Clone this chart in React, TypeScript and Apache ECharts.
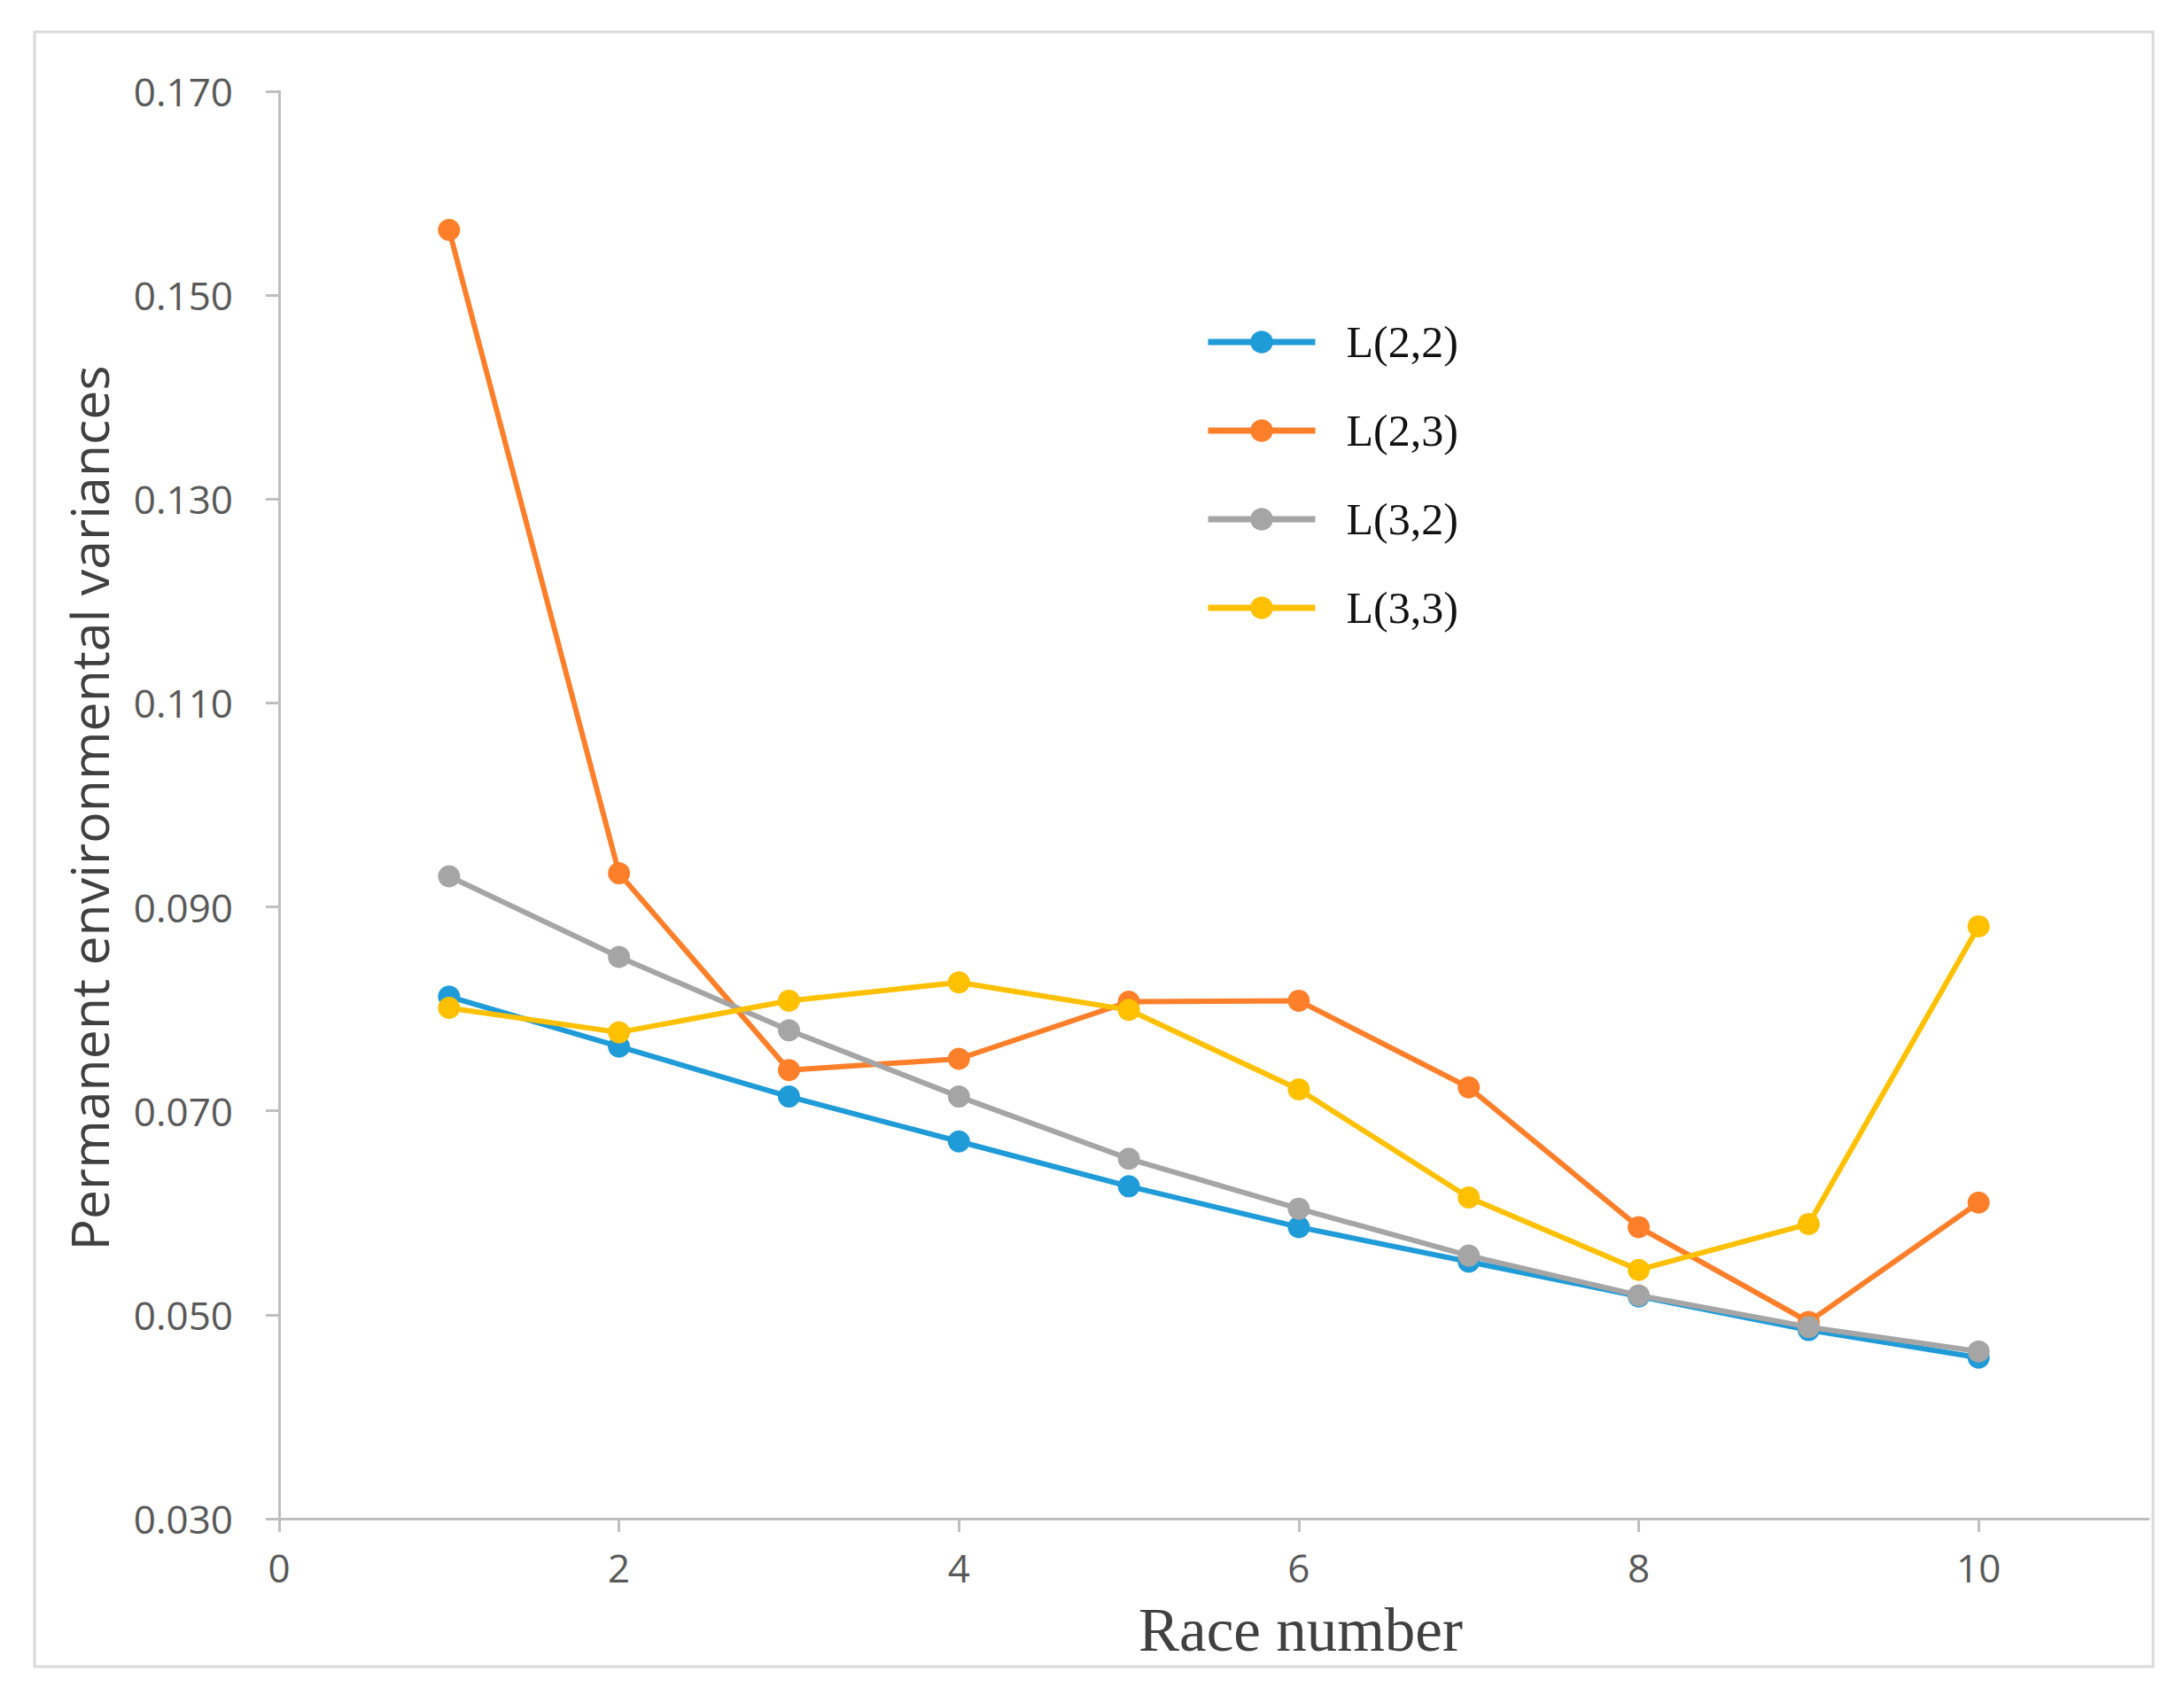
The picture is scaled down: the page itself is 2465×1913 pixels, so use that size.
import React, { useEffect, useRef } from "react";
import * as echarts from "echarts";

const raceNumbers = [1, 2, 3, 4, 5, 6, 7, 8, 9, 10];
const seriesNames = ["L(2,2)", "L(2,3)", "L(3,2)", "L(3,3)"];
const l22 = [0.0812, 0.0763, 0.0714, 0.067, 0.0626, 0.0586, 0.0552, 0.0518, 0.0485, 0.0458];
const l23 = [0.1564, 0.0933, 0.074, 0.0751, 0.0807, 0.0808, 0.0723, 0.0586, 0.0493, 0.061];
const l32 = [0.093, 0.0851, 0.0779, 0.0714, 0.0653, 0.0604, 0.0558, 0.0519, 0.0488, 0.0464];
const l33 = [0.0801, 0.0777, 0.0808, 0.0826, 0.0799, 0.0721, 0.0615, 0.0544, 0.0589, 0.0881];
const xTickValues = [0, 2, 4, 6, 8, 10];
const colors = ["#1f9bd7", "#fe7f2a", "#a5a5a5", "#ffc000"];

export default function App() {
  const ref = useRef<HTMLDivElement>(null);
  useEffect(() => {
    if (!ref.current) return;
    const chart = echarts.init(ref.current, undefined, { renderer: "svg" });
    const all = [l22, l23, l32, l33];
    chart.setOption({
      animation: false,
      backgroundColor: "#ffffff",
      grid: { left: 315, top: 103, right: 40, bottom: 199, containLabel: false },
      legend: {
        orient: "vertical",
        left: 1355,
        top: 356,
        itemWidth: 121,
        itemHeight: 32,
        itemGap: 50,
        data: seriesNames,
        lineStyle: { width: 7 },
        textStyle: {
          fontFamily: "Liberation Serif",
          fontSize: 50,
          color: "#111111",
          padding: [0, 0, 0, 30],
        },
      },
      xAxis: {
        type: "value",
        min: 0,
        max: 11,
        interval: 2,
        axisLine: { show: true, lineStyle: { color: "#bfbfbf", width: 3 } },
        axisTick: { show: true, length: 15, lineStyle: { color: "#bfbfbf", width: 3 }, customValues: xTickValues },
        axisLabel: {
          customValues: xTickValues,
          fontFamily: "Open Sans",
          fontSize: 44,
          lineHeight: 44,
          color: "#595959",
          margin: 33,
        },
        splitLine: { show: false },
      },
      yAxis: {
        type: "value",
        min: 0.03,
        max: 0.17,
        interval: 0.02,
        axisLine: { show: true, lineStyle: { color: "#bfbfbf", width: 3 } },
        axisTick: { show: true, length: 15, lineStyle: { color: "#bfbfbf", width: 3 } },
        axisLabel: {
          fontFamily: "Open Sans",
          fontSize: 44,
          color: "#595959",
          margin: 52,
          formatter: (v: number) => v.toFixed(3),
        },
        splitLine: { show: false },
      },
      graphic: [
        {
          type: "rect",
          shape: { x: 39, y: 36, width: 2391, height: 1845 },
          style: { fill: "none", stroke: "#d9d9d9", lineWidth: 3 },
          silent: true,
        },
        {
          type: "text",
          x: 1468,
          y: 1870,
          style: {
            text: "Race number",
            fontFamily: "Liberation Serif",
            fontSize: 69,
            lineHeight: 60,
            fill: "#404040",
            align: "center",
            verticalAlign: "bottom",
          },
        },
        {
          type: "text",
          x: 100,
          y: 912,
          rotation: Math.PI / 2,
          style: {
            text: "Permanent environmental variances",
            fontFamily: "Open Sans",
            fontSize: 59,
            fill: "#404040",
            align: "center",
            verticalAlign: "middle",
          },
        },
      ],
      series: seriesNames.map((name, i) => ({
        name,
        type: "line",
        data: raceNumbers.map((x, j) => [x, all[i][j]]),
        symbol: "circle",
        symbolSize: 25,
        color: colors[i],
        lineStyle: { width: 6, color: colors[i] },
        itemStyle: { color: colors[i] },
        z: 2 + i,
      })),
    });
    return () => chart.dispose();
  }, []);
  return (
    <div
      ref={ref}
      style={{ position: "absolute", left: 0, top: 0, width: 2465, height: 1913 }}
    />
  );
}
